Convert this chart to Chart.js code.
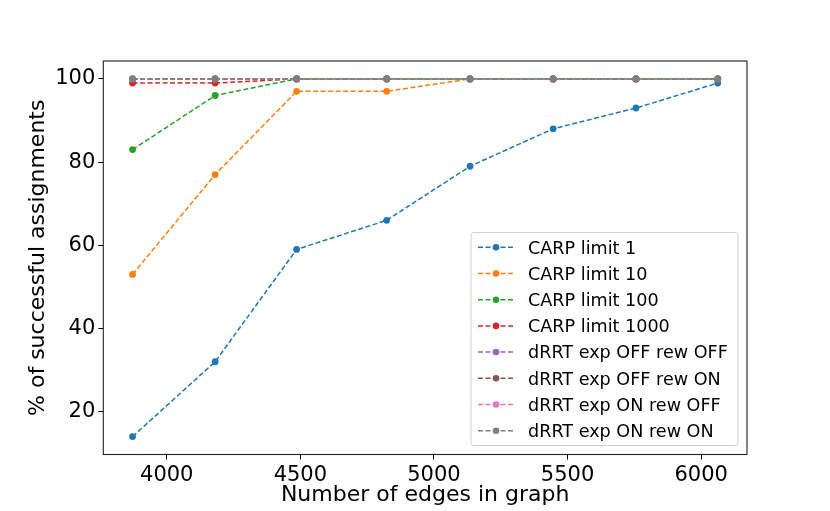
<!DOCTYPE html>
<html>
<head>
<meta charset="utf-8">
<script src="https://cdn.jsdelivr.net/npm/chart.js@4.4.0/dist/chart.umd.min.js"></script>
<style>
  html, body { margin: 0; padding: 0; background: #fff; }
  #wrap { width: 830px; height: 511px; }
</style>
</head>
<body>
<div id="wrap"><canvas id="grafico" width="830" height="511"></canvas></div>
<script>
var edges = [3872, 4181, 4486, 4823, 5135, 5446, 5756, 6062];
var carp1 = [14, 32, 59, 66, 79, 88, 93, 99];
var carp10 = [53, 77, 97, 97, 100, 100, 100, 100];
var carp100 = [83, 96, 100, 100, 100, 100, 100, 100];
var carp1000 = [99, 99, 100, 100, 100, 100, 100, 100];
var drrtOffOff = [100, 100, 100, 100, 100, 100, 100, 100];
var drrtOffOn = [100, 100, 100, 100, 100, 100, 100, 100];
var drrtOnOff = [100, 100, 100, 100, 100, 100, 100, 100];
var drrtOnOn = [100, 100, 100, 100, 100, 100, 100, 100];

var nomes = ["CARP limit 1", "CARP limit 10", "CARP limit 100", "CARP limit 1000",
  "dRRT exp OFF rew OFF", "dRRT exp OFF rew ON", "dRRT exp ON rew OFF", "dRRT exp ON rew ON"];
var series = [carp1, carp10, carp100, carp1000, drrtOffOff, drrtOffOn, drrtOnOff, drrtOnOn];
var cores = ["#1f77b4", "#ff7f0e", "#2ca02c", "#d62728", "#9467bd", "#8c564b", "#e377c2", "#7f7f7f"];

var xTicks = [4000, 4500, 5000, 5500, 6000];
var yTicks = [20, 40, 60, 80, 100];

// matplotlib style 5% margins
var xmin = Math.min.apply(null, edges), xmax = Math.max.apply(null, edges);
var allY = [].concat.apply([], series);
var ymin = Math.min.apply(null, allY), ymax = Math.max.apply(null, allY);
var xm = (xmax - xmin) * 0.05, ym = (ymax - ymin) * 0.05;

var fonte = "'DejaVu Sans', sans-serif";

var datasets = series.map(function (s, i) {
  return {
    label: nomes[i],
    data: s.map(function (v, j) { return { x: edges[j], y: v }; }),
    borderColor: cores[i],
    backgroundColor: cores[i],
    borderWidth: 1.5,
    borderDash: [5, 2.5],
    pointRadius: 3.4,
    pointBorderWidth: 0,
    pointHoverRadius: 3.4,
    tension: 0,
    fill: false,
    order: series.length - i
  };
});

// frame around plot + legend inside the axes
var molduraLegenda = {
  id: 'molduraLegenda',
  afterDatasetsDraw: function (chart) {
    var ctx = chart.ctx, a = chart.chartArea;
    ctx.save();
    ctx.strokeStyle = '#222';
    ctx.lineWidth = 1.1;
    ctx.strokeRect(a.left, a.top, a.right - a.left, a.bottom - a.top);

    // legend box
    var bx = 471, by = 232.5, bw = 267, bh = 213, r = 3;
    ctx.globalAlpha = 0.8;
    ctx.fillStyle = '#fff';
    ctx.beginPath();
    ctx.roundRect(bx, by, bw, bh, r);
    ctx.fill();
    ctx.globalAlpha = 1;
    ctx.strokeStyle = '#d0d0d0';
    ctx.lineWidth = 1;
    ctx.stroke();

    ctx.font = "17.6px " + fonte;
    ctx.textBaseline = 'alphabetic';
    ctx.textAlign = 'left';
    for (var i = 0; i < nomes.length; i++) {
      var yy = 247.3 + i * 26.2;
      ctx.strokeStyle = cores[i];
      ctx.lineWidth = 1.5;
      ctx.setLineDash([5, 2.5]);
      ctx.beginPath();
      ctx.moveTo(478, yy);
      ctx.lineTo(514, yy);
      ctx.stroke();
      ctx.setLineDash([]);
      ctx.fillStyle = cores[i];
      ctx.beginPath();
      ctx.arc(496, yy, 3.3, 0, Math.PI * 2);
      ctx.fill();
      ctx.fillStyle = '#000';
      ctx.fillText(nomes[i], 528, yy + 6.2);
    }
    ctx.restore();
  }
};

function semVirgula(v) { return String(v); }

new Chart("grafico", {
  type: "line",
  data: { datasets: datasets },
  options: {
    responsive: false,
    animation: false,
    devicePixelRatio: 1,
    layout: { padding: { left: 0, right: 83, top: 61, bottom: 0 } },
    plugins: {
      legend: { display: false },
      tooltip: { enabled: false }
    },
    scales: {
      x: {
        type: 'linear',
        min: xmin - xm,
        max: xmax + xm,
        afterBuildTicks: function (scale) {
          scale.ticks = xTicks.map(function (v) { return { value: v }; });
        },
        afterFit: function (scale) { scale.height = 56.5; },
        grid: { display: true, drawOnChartArea: false, drawTicks: true, tickLength: 5, tickColor: '#000', tickWidth: 1 },
        border: { display: false },
        ticks: { color: '#000', padding: 3, maxRotation: 0, callback: semVirgula, font: { family: fonte, size: 21 } },
        title: {
          display: true,
          text: 'Number of edges in graph',
          color: '#000',
          font: { family: fonte, size: 22 },
          padding: { top: 0, bottom: 3 }
        }
      },
      y: {
        type: 'linear',
        min: ymin - ym,
        max: ymax + ym,
        afterBuildTicks: function (scale) {
          scale.ticks = yTicks.map(function (v) { return { value: v }; });
        },
        afterFit: function (scale) { scale.width = 103.3; },
        grid: { display: true, drawOnChartArea: false, drawTicks: true, tickLength: 5, tickColor: '#000', tickWidth: 1 },
        border: { display: false },
        ticks: { color: '#000', padding: 3, callback: semVirgula, font: { family: fonte, size: 21 } },
        title: {
          display: true,
          text: '% of successful assignments',
          color: '#000',
          font: { family: fonte, size: 22 },
          padding: { top: 25, bottom: 0 }
        }
      }
    }
  },
  plugins: [molduraLegenda]
});
</script>
</body>
</html>
